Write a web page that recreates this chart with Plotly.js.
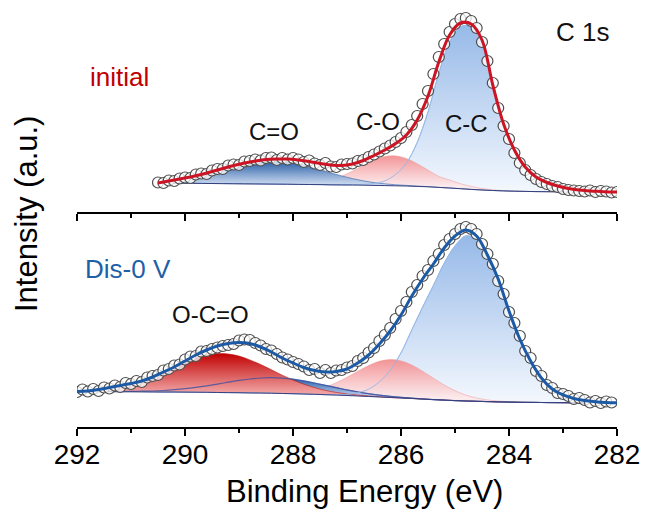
<!DOCTYPE html>
<html>
<head>
<meta charset="utf-8">
<script src="https://cdn.plot.ly/plotly-3.0.1.min.js"></script>
<style>html,body{margin:0;padding:0;background:#fff;}#chart{width:647px;height:513px;}</style>
</head>
<body>
<div id="chart"></div>
<script>
// ---------- Top panel (initial) ----------
const topDataE = [290.5,290.4,290.3,290.2,290.1,290.0,289.9,289.8,289.7,289.6,289.5,289.4,289.3,289.2,289.1,289.0,288.9,288.8,288.7,288.6,288.5,288.4,288.3,288.2,288.1,288.0,287.9,287.8,287.7,287.6,287.5,287.4,287.3,287.2,287.1,287.0,286.9,286.8,286.7,286.6,286.5,286.4,286.3,286.2,286.1,286.0,285.9,285.8,285.7,285.6,285.5,285.4,285.3,285.2,285.1,285.0,284.9,284.8,284.7,284.6,284.5,284.4,284.3,284.2,284.1,284.0,283.9,283.8,283.7,283.6,283.5,283.4,283.3,283.2,283.1,283.0,282.9,282.8,282.7,282.6,282.5,282.4,282.3,282.2,282.1,282.0];
const topData = [29.5,29,31.5,31,33.5,34.5,34,37.5,38.5,38,41.5,43,43,46.5,47.5,47,50.5,51,52.5,51.5,54,54.5,52,54,52.5,54,52.5,50,51.5,48.5,47,49,45.5,45,47.5,48,48.5,51,52,55,57.5,60.5,63.5,66.5,70,74,80,87,96,108,121,138,155,168,180,188,193,194,191,184,170,151,129,104,86,73,59,49,42,37,33,30,28,26,25,23,22,21.5,21,20.5,21.5,20,21,20.5,19.5,20];
const topGridE = [290.5,290.3,290.1,289.9,289.7,289.5,289.3,289.1,288.9,288.7,288.5,288.3,288.1,287.9,287.7,287.5,287.3,287.1,286.9,286.7,286.5,286.3,286.1,285.9,285.7,285.5,285.3,285.1,284.9,284.7,284.5,284.3,284.1,283.9,283.7,283.5,283.3,283.1,282.9,282.7,282.5,282.3,282.1,282.0];
const topFit = [29,31,33,35,37.5,40.5,43.5,46.5,49,51,52.5,53,53,52,50.5,48.5,47,46.5,48,51.5,56.5,62,68.5,77,92,116,150,177,189,188,172,127,88,62,45,35,29.5,26,23.5,22,21,20.5,20,20];
const topBg = [29,28.9,28.8,28.7,28.6,28.5,28.4,28.3,28.2,28.1,28,27.9,27.8,27.6,27.5,27.4,27.2,27.1,27,26.8,26.6,26.4,26.2,26,25.6,25.2,24.6,24,23.3,22.6,22,21.5,21.1,20.8,20.6,20.4,20.3,20.2,20.1,20,20,20,20,20];
const topCeqO = [1.4,2.2,3.5,5.3,7.6,10.4,13.5,16.6,19.5,21.8,23.2,23.5,22.6,20.7,18.1,15.0,11.9,9.0,6.4,4.4,2.8,1.8,1.0,0.6,0.3,0.2,0,0,0,0,0,0,0,0,0,0,0,0,0,0,0,0,0,0];
const topCO = [0,0,0,0,0,0,0,0,0,0,0,0,0,0.4,1.1,2.4,4.8,8.6,13.7,19.7,25.3,29.1,29.9,27.5,22.6,16.7,11,8,5,3,1.5,0.7,0.3,0,0,0,0,0,0,0,0,0,0,0];
const topCC = [0,0,0,0,0,0,0,0,0,0,0,0,0,0,0,0,0,0,0.3,0.8,2,4.7,11.4,23,44,75,114,146,162,163,148,105,67,41,24,14.6,9.2,5.8,3.4,2,1,0.5,0.2,0];

// ---------- Bottom panel (Dis-0 V) ----------
const botDataE = [292.0,291.9,291.8,291.7,291.6,291.5,291.4,291.3,291.2,291.1,291.0,290.9,290.8,290.7,290.6,290.5,290.4,290.3,290.2,290.1,290.0,289.9,289.8,289.7,289.6,289.5,289.4,289.3,289.2,289.1,289.0,288.9,288.8,288.7,288.6,288.5,288.4,288.3,288.2,288.1,288.0,287.9,287.8,287.7,287.6,287.5,287.4,287.3,287.2,287.1,287.0,286.9,286.8,286.7,286.6,286.5,286.4,286.3,286.2,286.1,286.0,285.9,285.8,285.7,285.6,285.5,285.4,285.3,285.2,285.1,285.0,284.9,284.8,284.7,284.6,284.5,284.4,284.3,284.2,284.1,284.0,283.9,283.8,283.7,283.6,283.5,283.4,283.3,283.2,283.1,283.0,282.9,282.8,282.7,282.6,282.5,282.4,282.3,282.2,282.1];
const botData = [35,37.5,35.5,38,36,39.5,38.5,41.5,40,44,
  43,46,45,49.5,51,52,56.5,58,61.5,62.5,
  67.5,70.5,71,75.5,76,78,79.5,81,82,83,
  86.5,87.5,87,84,81.5,78,76.5,73,69.5,67.5,
  65,63,60.5,57,58,54,57,54,56.5,57,
  59.5,61,66,69,74.5,79,86,92,99,108,
  116,125,135,142,151,157,166,173,182,188,
  193,198,200,198,193,183,173,163,146,133,
  115,104,91,76,69,56,51,42,39,34,
  33,31,28,29,27,24.5,26,24,25.5,24.5];
const botGridE = [292.0,291.8,291.6,291.4,291.2,291.0,290.8,290.6,290.4,290.2,290.0,289.8,289.6,289.4,289.2,289.0,288.8,288.6,288.4,288.2,288.0,287.8,287.6,287.4,287.2,287.0,286.8,286.6,286.4,286.2,286.0,285.8,285.6,285.4,285.2,285.0,284.8,284.6,284.4,284.2,284.0,283.8,283.6,283.4,283.2,283.0,282.8,282.6,282.4,282.2,282.0];
const botFit = [35.5,36,37.5,39.5,41.5,43.5,46,50,55,60,66,72,77,81,83.5,84.5,83.5,80,75,69,64,59.5,56.5,55,55.5,58,64,72,83,96,112,131,148,163,179,191,197,191,172,148,116,88,66,49,38,32,28.5,26.5,25.3,24.6,24.3];
const botBg = [35.5,35.5,35.4,35.4,35.3,35.3,35.2,35.1,35.0,35.0,34.9,34.8,34.7,34.5,34.4,34.3,34.1,34.0,33.8,33.5,33.3,33.0,32.7,32.3,31.9,31.5,31.0,30.5,30.0,29.5,29.0,28.5,27.9,27.4,26.9,26.4,26.0,25.7,25.4,25.1,24.9,24.7,24.6,24.5,24.4,24.3,24.2,24.1,24.1,24.0,24.0];
const botOCO = [0.6,1.1,1.9,3.1,4.9,7.5,10.9,15,19.8,24.9,29.9,34.2,37.4,38.9,38.6,36.6,33,28.5,23.4,18.3,13.7,9.8,6.7,4.3,2.7,1.6,0.9,0.5,0.2,0,0,0,0,0,0,0,0,0,0,0,0,0,0,0,0,0,0,0,0,0,0];
const botCeqO = [0,0,0,0.1,0.2,0.3,0.6,0.9,1.5,2.3,3.4,4.8,6.5,8.4,10.4,12.3,13.9,15,15.5,15.3,14.5,13.1,11.3,9.4,7.5,5.6,4.1,2.8,1.9,1.2,0.7,0.4,0.2,0,0,0,0,0,0,0,0,0,0,0,0,0,0,0,0,0,0];
const botCO = [0,0,0,0,0,0,0,0,0,0,0,0,0,0,0,0,0,0,0.2,0.5,1.2,2.4,4.4,7.7,12.3,18.2,24.7,30.9,35.7,37.9,37.1,33.5,27.9,21.4,15.1,9.9,5.9,3.3,1.7,0.8,0.4,0.2,0,0,0,0,0,0,0,0,0];
const botCC = [0,0,0,0,0,0,0,0,0,0,0,0,0,0,0,0,0,0,0,0,0,0,0,0,0.5,1.1,3.3,7.3,15.2,27.4,45.2,68.6,92,114.2,137,154.7,165.1,162,144.9,122.1,90.7,63.1,41.4,24.5,13.6,7.7,4.3,2.4,1.2,0.6,0.3];

const xTickVals = [292,290,288,286,284,282];

// ---------- build ----------
const add = (a, b) => a.map((v, i) => v + b[i]);
const FONT = 'Liberation Sans, Arial, Helvetica, sans-serif';
const traces = [];

function bgTrace(x, y, xa, ya) {
  return {x: x, y: y, xaxis: xa, yaxis: ya, mode: 'lines', line: {width: 0, shape: 'spline'}, hoverinfo: 'skip', showlegend: false};
}
function compTrace(x, y, xa, ya, lineColor, cs, start, stop, lw) {
  return {x: x, y: y, xaxis: xa, yaxis: ya, mode: 'lines', fill: 'tonexty',
    fillgradient: {type: 'vertical', colorscale: cs, start: start, stop: stop},
    line: {width: lw === undefined ? 1 : lw, color: lineColor, shape: 'spline'}, hoverinfo: 'skip', showlegend: false};
}
function lineTrace(x, y, xa, ya, color, w) {
  return {x: x, y: y, xaxis: xa, yaxis: ya, mode: 'lines', line: {width: w, color: color, shape: 'spline'}, hoverinfo: 'skip', showlegend: false};
}
const markerStyle = {symbol: 'circle', size: 11, color: 'rgba(255,255,255,0.75)', line: {width: 1.2, color: '#4d4d4d'}};

// top panel (x2,y2)
traces.push(bgTrace(topGridE, topBg, 'x2', 'y2'));
traces.push(compTrace(topGridE, add(topBg, topCC), 'x2', 'y2', 'rgba(150,185,232,0.9)',
  [[0, 'rgba(244,248,254,1)'], [1, 'rgba(150,185,232,1)']], 20, 188));
traces.push(bgTrace(topGridE, topBg, 'x2', 'y2'));
traces.push(compTrace(topGridE, add(topBg, topCO), 'x2', 'y2', 'rgba(240,150,150,0.5)',
  [[0, 'rgba(253,232,233,0.85)'], [1, 'rgba(242,140,143,0.95)']], 26, 57));
traces.push(bgTrace(topGridE, topBg, 'x2', 'y2'));
traces.push(compTrace(topGridE, add(topBg, topCeqO), 'x2', 'y2', 'rgba(45,95,165,0.6)',
  [[0, 'rgba(200,216,239,1)'], [1, 'rgba(34,88,162,1)']], 28, 52));
traces.push(lineTrace(topGridE, add(topBg, topCC), 'x2', 'y2', 'rgba(150,185,232,0.9)', 1));
traces.push(lineTrace(topGridE, topBg, 'x2', 'y2', '#34407e', 1));
traces.push({x: topDataE, y: topData, xaxis: 'x2', yaxis: 'y2', mode: 'markers',
  marker: markerStyle, hoverinfo: 'skip', showlegend: false});
traces.push(lineTrace(topGridE, topFit, 'x2', 'y2', '#cc1424', 3));

// bottom panel (x,y)
traces.push(bgTrace(botGridE, botBg, 'x', 'y'));
traces.push(compTrace(botGridE, add(botBg, botCC), 'x', 'y', 'rgba(150,185,232,0.9)',
  [[0, 'rgba(244,248,254,1)'], [1, 'rgba(150,185,232,1)']], 24, 192));
traces.push(bgTrace(botGridE, botBg, 'x', 'y'));
traces.push(compTrace(botGridE, add(botBg, botCO), 'x', 'y', 'rgba(240,150,150,0.5)',
  [[0, 'rgba(253,232,233,0.85)'], [1, 'rgba(242,140,143,0.95)']], 29, 68));
traces.push(bgTrace(botGridE, botBg, 'x', 'y'));
traces.push(compTrace(botGridE, add(botBg, botCeqO), 'x', 'y', 'rgba(45,95,165,0.6)',
  [[0, 'rgba(175,196,230,1)'], [1, 'rgba(30,88,165,1)']], 33, 49));
traces.push(bgTrace(botGridE, botBg, 'x', 'y'));
traces.push(compTrace(botGridE, add(botBg, botOCO), 'x', 'y', 'rgba(190,20,20,0.6)',
  [[0, 'rgba(240,160,160,1)'], [1, 'rgba(192,0,0,1)']], 35, 74));
traces.push(lineTrace(botGridE, add(botBg, botCeqO), 'x', 'y', 'rgba(60,80,160,0.8)', 1.2));
traces.push(lineTrace(botGridE, add(botBg, botCC), 'x', 'y', 'rgba(150,185,232,0.9)', 1));
traces.push(lineTrace(botGridE, botBg, 'x', 'y', '#34407e', 1));
traces.push({x: botDataE, y: botData, xaxis: 'x', yaxis: 'y', mode: 'markers',
  marker: markerStyle, hoverinfo: 'skip', showlegend: false});
traces.push(lineTrace(botGridE, botFit, 'x', 'y', '#1c5aa6', 3));

const xCommon = {
  range: [292, 282], showgrid: false, zeroline: false, showline: true, linewidth: 2, linecolor: '#000',
  ticks: 'outside', ticklen: 7, tickwidth: 2, tickcolor: '#000',
  tickvals: xTickVals, ticklabelstandoff: -6,
  minor: {dtick: 1, ticks: 'outside', ticklen: 4, tickwidth: 2, tickcolor: '#000'},
  tickfont: {family: FONT, size: 28, color: '#000'}
};

const ann = (text, x, y, size, color, extra) => Object.assign({
  text: text, x: x, y: y, xref: 'paper', yref: 'paper', showarrow: false,
  xanchor: 'center', yanchor: 'middle', font: {family: FONT, size: size, color: color}
}, extra || {});

const layout = {
  width: 647, height: 513,
  margin: {l: 77, r: 30, t: 10, b: 86},
  paper_bgcolor: '#fff', plot_bgcolor: 'rgba(0,0,0,0)',
  showlegend: false,
  xaxis: Object.assign({}, xCommon, {anchor: 'y', domain: [0, 1]}),
  yaxis: {domain: [0, 0.5156], range: [0, 215], visible: false, fixedrange: true},
  xaxis2: Object.assign({}, xCommon, {anchor: 'y2', domain: [0, 1], showticklabels: false}),
  yaxis2: {domain: [0.5156, 1], range: [0, 202], visible: false, fixedrange: true},
  annotations: [
    ann('initial', 0.0796, 0.839, 26, '#c00000'),
    ann('Dis-0 V', 0.0944, 0.379, 26, '#1f5fa8'),
    ann('C=O', 0.3648, 0.7098, 24, '#111'),
    ann('C-O', 0.5574, 0.7338, 24, '#111'),
    ann('C-C', 0.7204, 0.729, 24, '#111'),
    ann('C 1s', 0.9352, 0.9472, 26, '#111'),
    ann('O-C=O', 0.2463, 0.2686, 24, '#111'),
    ann('Intensity (a.u.)', -0.0926, 0.5108, 31, '#000', {textangle: -90}),
    ann('Binding Energy (eV)', 0.5333, -0.1535, 31, '#000')
  ]
};

Plotly.newPlot('chart', traces, layout, {displayModeBar: false, staticPlot: true});
</script>
</body>
</html>
